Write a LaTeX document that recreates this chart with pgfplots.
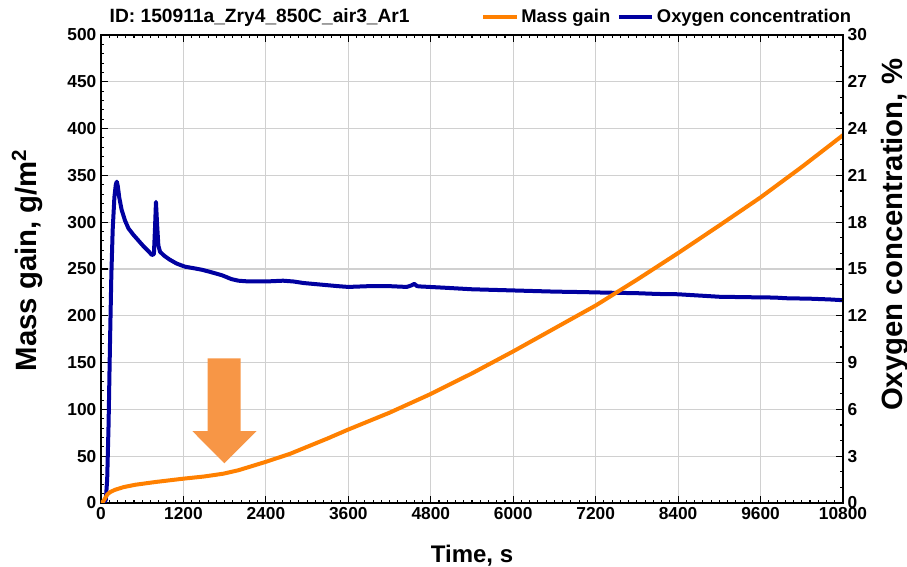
\documentclass[border=0pt]{standalone}
\usepackage{pgfplots}
\pgfplotsset{compat=1.18}
\usepackage{fontspec}
\setmainfont{Liberation Sans}
\definecolor{mgorange}{RGB}{255,128,0}
\definecolor{o2blue}{RGB}{0,0,160}
\definecolor{arroworange}{RGB}{247,150,70}
\definecolor{gridgray}{RGB}{208,208,208}
\begin{document}
\begin{tikzpicture}
\pgfplotsset{
  common/.style={
    at={(0,0)}, anchor=south west,
    scale only axis, width=556.5pt, height=351pt,
    xmin=0, xmax=10800,
    tick align=inside,
    major tick length=5pt, minor tick length=2.5pt,
    every tick/.style={black, line width=0.8pt},
    axis line style={black, line width=1pt},
    tick label style={font=\bfseries\fontsize{13}{15}\selectfont},
    /pgf/number format/assume math mode=true,
    /pgf/number format/1000 sep={},
    scaled ticks=false,
  }
}
\begin{axis}[common,
  ymin=0, ymax=500,
  xtick={0,1200,...,10800}, ytick={0,50,...,500},
  minor x tick num=9, minor y tick num=4,
  ytick pos=left, xtick pos=both,
  grid=major, major grid style={gridgray, line width=0.9pt},
  xlabel={Time, s},
  xlabel style={font=\bfseries\fontsize{18}{21}\selectfont, at={(axis description cs:0.5,-0.128)}, anchor=base},
  ylabel={Mass gain, g/m\textsuperscript{2}},
  ylabel style={font=\bfseries\fontsize{22}{25}\selectfont, at={(axis description cs:-0.0997,0.519)}, anchor=center, rotate=0},
  legend columns=2,
  legend style={at={(axis description cs:1.015,1.016)}, anchor=south east, draw=none, fill=none,
    font=\bfseries\fontsize{13.8}{16}\selectfont, inner sep=0pt,
    /tikz/every even column/.append style={column sep=3pt}},
  legend image code/.code={\draw[#1] (0pt,0pt) -- (25pt,0pt);},
]
% arrow annotation
\fill[arroworange] (axis cs:1553,154.6) -- (axis cs:2033,154.6) -- (axis cs:2033,76.9) -- (axis cs:2266,76.9)
  -- (axis cs:1795,42.4) -- (axis cs:1329,76.9) -- (axis cs:1553,76.9) -- cycle;
% Oxygen concentration (%), mapped to left scale
\addplot[o2blue, line width=3pt, line join=round, forget plot, y filter/.expression={y*50/3}] coordinates {
(0,0) (40,0) (70,0.2) (90,1.5) (110,5) (130,10) (150,14.5) (170,17.5) (195,19.6) (215,20.4) (230,20.6)
(245,20.3) (265,19.6) (300,18.8) (350,18.1) (400,17.6) (470,17.2) (540,16.85) (620,16.45) (700,16.1)
(740,15.9) (770,15.95) (785,17.5) (800,19.3) (815,18.0) (835,16.5) (860,16.1) (920,15.85) (1000,15.6)
(1100,15.35) (1220,15.15) (1350,15.05) (1470,14.95) (1600,14.8) (1760,14.6) (1900,14.35) (2000,14.25)
(2150,14.2) (2400,14.2) (2650,14.25) (2800,14.2) (2950,14.1) (3200,14.0) (3450,13.9) (3600,13.85)
(3900,13.9) (4200,13.9) (4450,13.85) (4520,13.95) (4560,14.05) (4600,13.9) (4650,13.88) (5000,13.8)
(5400,13.7) (5800,13.65) (6200,13.6) (6600,13.55) (7000,13.52) (7400,13.48) (7800,13.45) (8100,13.4)
(8400,13.38) (8700,13.3) (9000,13.22) (9300,13.2) (9600,13.18) (9800,13.17) (10000,13.12) (10300,13.1)
(10600,13.05) (10800,13.0)
};
% Mass gain (g/m^2)
\addplot[mgorange, line width=3pt, line join=round] coordinates {
(0,0) (30,1.5) (60,5) (90,9) (130,11.5) (200,14) (330,17) (500,19.5) (800,22.5) (1200,26) (1500,28.3)
(1780,31.3) (2000,35) (2170,38.8) (2400,44) (2750,52.5) (3000,60) (3300,69) (3600,78.5) (4200,96.5)
(4800,116.5) (5400,138.5) (6000,162) (6600,186.5) (7200,211) (7800,238.5) (8400,267) (9000,296.5)
(9600,326.5) (10200,359) (10800,393)
};
\addlegendentry{Mass gain}
\addlegendimage{o2blue, line width=3pt}
\addlegendentry{Oxygen concentration}
\end{axis}
\begin{axis}[common,
  ymin=0, ymax=30,
  axis x line=none, axis y line*=right,
  ytick={0,3,...,30}, minor y tick num=2,
  ylabel={Oxygen concentration, \%},
  every axis y label/.style={at={(axis description cs:1.070,0.573)}, anchor=center, rotate=90,
    font=\bfseries\fontsize{22}{25}\selectfont},
]
\end{axis}
\node[anchor=base west, font=\bfseries\fontsize{14.4}{17}\selectfont] at (3pt,360pt) {ID: 150911a\_Zry4\_850C\_air3\_Ar1};
\pgfresetboundingbox
\useasboundingbox (-75.75pt,-48pt) rectangle (604.5pt,377.25pt);
\end{tikzpicture}
\end{document}
